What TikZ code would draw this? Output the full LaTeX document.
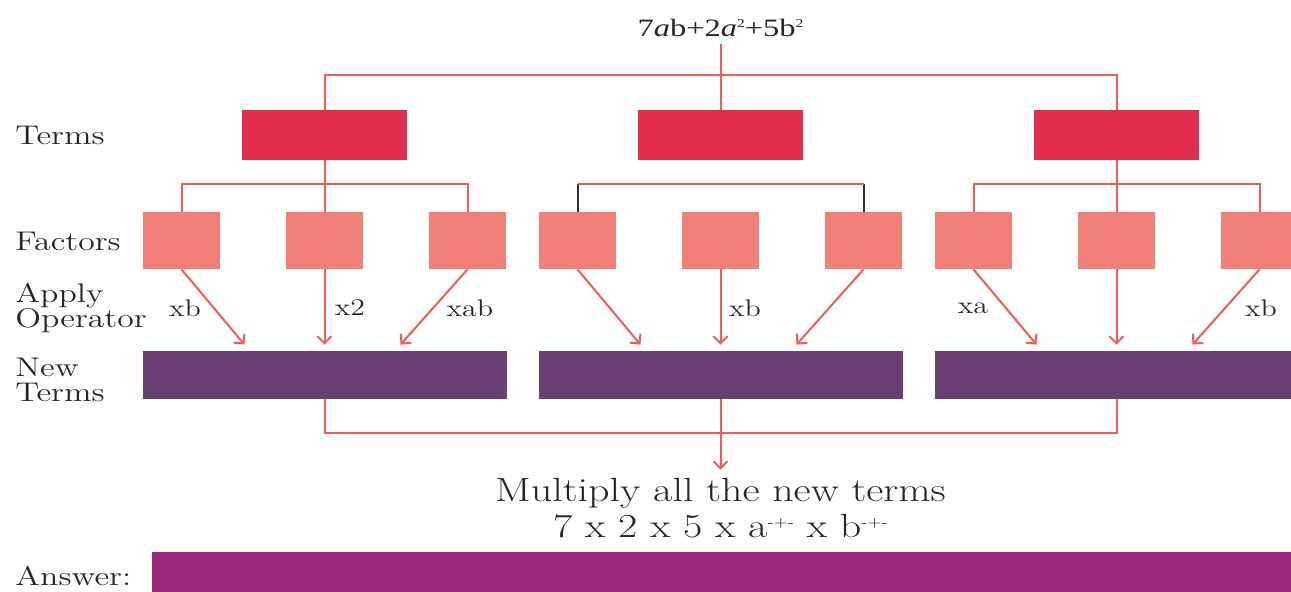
\documentclass[tikz,border=0pt]{standalone}
\usepackage{fontspec}
\setmainfont{Latin Modern Roman}[FakeStretch=1.25]
\newfontfamily\exprfont{Liberation Serif}[FakeStretch=1.3]
\usetikzlibrary{arrows.meta}
\definecolor{termred}{HTML}{E32D4D}
\definecolor{factorpink}{HTML}{F08078}
\definecolor{newpurple}{HTML}{6A4074}
\definecolor{answerplum}{HTML}{9D2A7C}
\definecolor{linered}{HTML}{F25C54}
\definecolor{textgrey}{HTML}{262626}
\newcommand{\tinysup}[1]{\raisebox{0.75ex}{\fontsize{6}{6}\selectfont #1}}
\begin{document}
\begin{tikzpicture}[x=0.5pt,y=-0.5pt,
  termbox/.style={fill=termred, minimum width=82.5pt, minimum height=25pt, inner sep=0pt},
  factorbox/.style={fill=factorpink, minimum width=38.5pt, minimum height=28.5pt, inner sep=0pt},
  newbar/.style={fill=newpurple, minimum width=182pt, minimum height=24pt, inner sep=0pt},
  link/.style={draw=linered, line width=1pt},
  darklink/.style={draw=black!80, line width=1pt},
  op/.style={draw=linered, line width=1pt, -{Straight Barb[length=3.5pt,width=7pt]}},
  rowlabel/.style={anchor=west, align=left, text=textgrey, inner sep=0pt,
    font=\fontsize{13.5}{12.5}\selectfont},
  oplabel/.style={text=textgrey, inner sep=0pt, font=\fontsize{12}{13}\selectfont}]
  \useasboundingbox (0,0) rectangle (1291,592);

  % expression and terms
  \node[text=textgrey, font=\exprfont\fontsize{12.5}{14}\selectfont] (expr) at (720.5,28)
    {7\textit{a}b+2\textit{a}\tinysup{2}+5b\tinysup{2}};
  \foreach \g/\cx in {1/324.5,2/720.5,3/1116.5} {
    \node[termbox] (t\g) at (\cx,135) {};
    \node[factorbox] (f\g1) at (\cx-143,240.5) {};
    \node[factorbox] (f\g2) at (\cx,240.5) {};
    \node[factorbox] (f\g3) at (\cx+143,240.5) {};
    \node[newbar] (n\g) at (\cx,375) {};
  }
  \coordinate (top) at (720.5,75);
  \draw[link] (expr.south) -- (t2.north);
  \draw[link] (t1.north) |- (top) -| (t3.north);

  % factors
  \draw[link] (t1.south) -- (f12.north);
  \draw[link] (f11.north) -- ++(0,-28) -| (f13.north);
  \draw[darklink] (f21.north) -- ++(0,-28) coordinate (m21);
  \draw[darklink] (f23.north) -- ++(0,-28) coordinate (m23);
  \draw[link] (m21) -- (m23);
  \draw[link] (t3.south) -- (f32.north);
  \draw[link] (f31.north) -- ++(0,-28) -| (f33.north);

  % apply operator
  \foreach \g in {1,2,3} {
    \draw[op] (f\g1.south) -- ([xshift=-40pt,yshift=3pt]n\g.north);
    \draw[op] (f\g2.south) -- ([yshift=3pt]n\g.north);
    \draw[op] (f\g3.south) -- ([xshift=38pt,yshift=3pt]n\g.north);
  }
  \node[oplabel] (op11) at (185,308) {xb};
  \node[oplabel] (op12) at (350,308) {x2};
  \node[oplabel] (op13) at (470,308) {xab};
  \node[oplabel] (op22) at (745,308) {xb};
  \node[oplabel] (op31) at (973,308) {xa};
  \node[oplabel] (op33) at (1261,308) {xb};

  % row labels
  \node[rowlabel] (lterms) at (15,135) {Terms};
  \node[rowlabel] (lfactors) at (15,241) {Factors};
  \node[rowlabel] (lapply) at (15,308) {Apply\\Operator};
  \node[rowlabel] (lnew) at (15,380) {New\\Terms};

  % multiply
  \node[align=center, text=textgrey, inner sep=0pt, font=\fontsize{16.8}{18}\selectfont]
    (mult) at (720.5,508) {Multiply all the new terms\\
    7 x 2 x 5 x a\tinysup{-+-} x b\tinysup{-+-}};
  \coordinate (bot) at (720.5,433);
  \draw[link] (n1.south) |- (bot) -| (n3.south);
  \draw[op] (n2.south) -- ([yshift=4pt]mult.north);

  % answer
  \node[fill=answerplum, minimum width=574pt, minimum height=24pt, inner sep=0pt]
    (answer) at (726,576) {};
  \node[rowlabel] (lanswer) at (15,576) {Answer:};
\end{tikzpicture}
\end{document}
